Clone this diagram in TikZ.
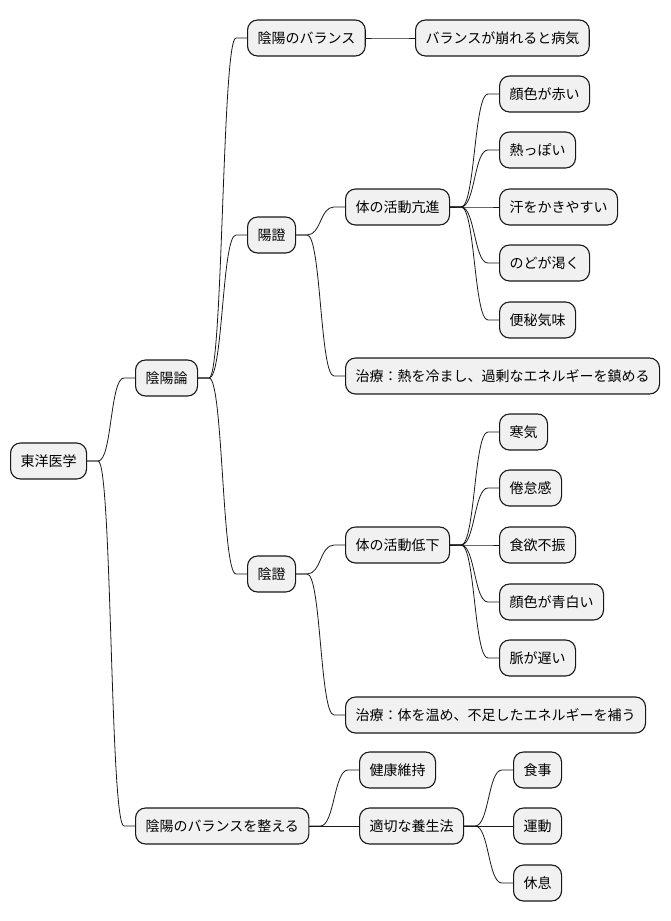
\documentclass[tikz,border=0pt]{standalone}
\usepackage{fontspec}
\usepackage{tikz}
\usetikzlibrary{calc}
\newfontfamily\jpfont{Noto Sans CJK JP}
\definecolor{nodefill}{HTML}{F1F1F1}
\definecolor{nodeline}{HTML}{181818}

\begin{document}
\begin{tikzpicture}[
    x=1pt, y=-1pt,
    topic/.style={draw=nodeline, fill=nodefill, line width=1.1pt, rounded corners=10pt,
        anchor=west, minimum height=36pt, inner xsep=10pt, inner ysep=0pt,
        font=\jpfont\fontsize{14pt}{16pt}\selectfont},
    branch/.style={draw=nodeline, line width=0.8pt}
]
    \useasboundingbox (0,0) rectangle (670,921);

    % root and first level
    \node[topic] (root) at (10,461) {東洋医学};
    \node[topic] (theory) at (135,378) {陰陽論};
    \node[topic] (adjust) at (135,826) {陰陽のバランスを整える};

    % balance
    \node[topic] (balance) at (247,38) {陰陽のバランス};
    \node[topic] (collapse) at (415,38) {バランスが崩れると病気};

    % yang pattern
    \node[topic] (yang) at (247,235) {陽證};
    \node[topic] (yangact) at (345,207) {体の活動亢進};
    \node[topic] (yangA) at (499,94) {顔色が赤い};
    \node[topic] (yangB) at (499,150) {熱っぽい};
    \node[topic] (yangC) at (499,207) {汗をかきやすい};
    \node[topic] (yangD) at (499,263) {のどが渇く};
    \node[topic] (yangE) at (499,320) {便秘気味};
    \node[topic] (yangcure) at (345,376) {治療：熱を冷まし、過剰なエネルギーを鎮める};

    % yin pattern
    \node[topic] (yin) at (247,574) {陰證};
    \node[topic] (yinact) at (345,545) {体の活動低下};
    \node[topic] (yinA) at (499,432) {寒気};
    \node[topic] (yinB) at (499,488) {倦怠感};
    \node[topic] (yinC) at (499,545) {食欲不振};
    \node[topic] (yinD) at (499,602) {顔色が青白い};
    \node[topic] (yinE) at (499,658) {脈が遅い};
    \node[topic] (yincure) at (345,715) {治療：体を温め、不足したエネルギーを補う};

    % keeping the balance
    \node[topic] (health) at (359,770) {健康維持};
    \node[topic] (regimen) at (359,826) {適切な養生法};
    \node[topic] (meal) at (513,770) {食事};
    \node[topic] (exercise) at (513,826) {運動};
    \node[topic] (rest) at (513,883) {休息};

    % Connectors
    \foreach \from/\to in {root/theory, root/adjust, theory/balance, balance/collapse,
        theory/yang, theory/yin, yang/yangact, yang/yangcure,
        yangact/yangA, yangact/yangB, yangact/yangC, yangact/yangD, yangact/yangE,
        yin/yinact, yin/yincure,
        yinact/yinA, yinact/yinB, yinact/yinC, yinact/yinD, yinact/yinE,
        adjust/health, adjust/regimen, regimen/meal, regimen/exercise, regimen/rest}
        \draw[branch] (\from.east) -- ++(11pt,0)
            .. controls +(14pt,0) and +(-14pt,0) .. ($(\to.west)+(-11pt,0)$) -- (\to.west);

\end{tikzpicture}
\end{document}
